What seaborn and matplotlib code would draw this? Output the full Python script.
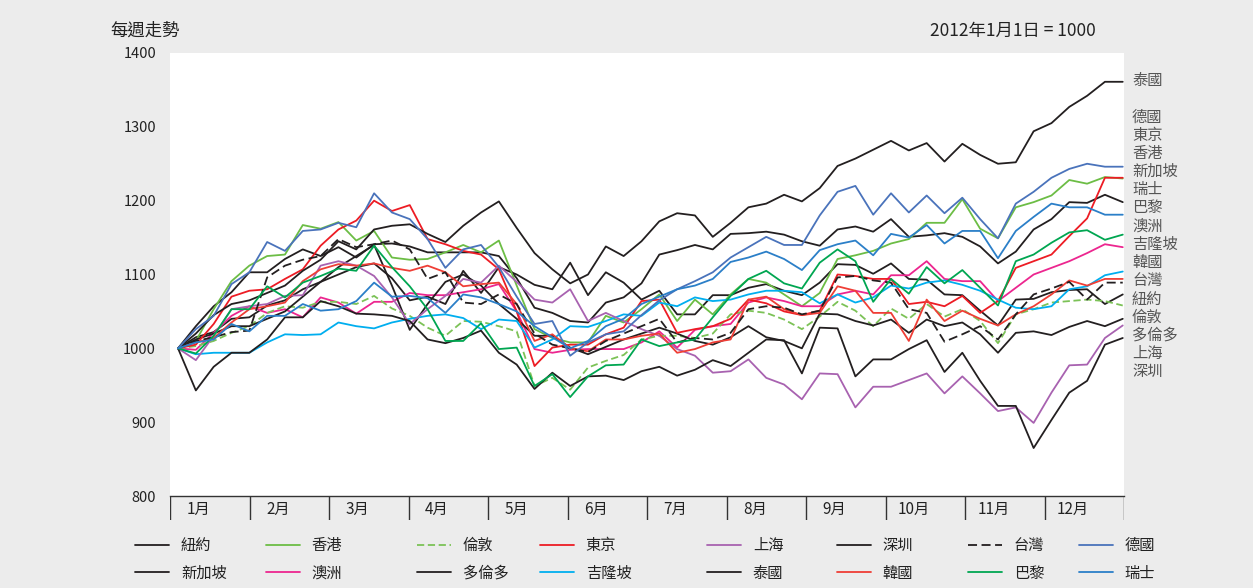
import numpy as np
import pandas as pd
import matplotlib
matplotlib.use('Agg')
import matplotlib.pyplot as plt
import seaborn as sns

# weekly index, 2012-01-01 = 1000
weeks = list(range(54))
months = ['1月', '2月', '3月', '4月', '5月', '6月', '7月', '8月', '9月', '10月', '11月', '12月']

ny = [1000, 1015, 1022, 1040, 1042, 1058, 1065, 1080, 1090, 1100,
      1110, 1115, 1095, 1065, 1070, 1060, 1105, 1075, 1110, 1100,
      1086, 1080, 1116, 1072, 1103, 1089, 1066, 1078, 1046, 1046,
      1072, 1072, 1082, 1087, 1078, 1072, 1089, 1114, 1113, 1101,
      1115, 1094, 1093, 1073, 1072, 1051, 1031, 1066, 1067, 1076,
      1079, 1080, 1060, 1073]
sg = [1000, 1030, 1057, 1076, 1103, 1103, 1121, 1134, 1125, 1137,
      1123, 1141, 1142, 1138, 1130, 1130, 1130, 1130, 1125, 1095,
      1055, 1048, 1037, 1035, 1062, 1069, 1088, 1127, 1133, 1140,
      1134, 1155, 1156, 1158, 1154, 1145, 1139, 1161, 1165, 1158,
      1175, 1151, 1153, 1156, 1151, 1138, 1115, 1131, 1161, 1175,
      1198, 1197, 1208, 1198]
hk = [1000, 1010, 1053, 1091, 1112, 1125, 1127, 1167, 1162, 1171,
      1146, 1159, 1123, 1120, 1121, 1130, 1140, 1130, 1146, 1085,
      1026, 1014, 1008, 1008, 1044, 1035, 1053, 1073, 1037, 1066,
      1046, 1073, 1094, 1089, 1073, 1057, 1075, 1121, 1126, 1132,
      1142, 1148, 1170, 1170, 1202, 1162, 1149, 1191, 1198, 1207,
      1228, 1223, 1232, 1230]
au = [1000, 998, 1021, 1044, 1057, 1048, 1053, 1042, 1069, 1062,
      1047, 1063, 1063, 1075, 1072, 1072, 1076, 1080, 1087, 1050,
      999, 994, 998, 999, 999, 999, 1008, 1023, 1001, 1025,
      1030, 1033, 1062, 1069, 1064, 1057, 1057, 1073, 1078, 1073,
      1099, 1099, 1118, 1094, 1091, 1091, 1064, 1082, 1100, 1109,
      1118, 1129, 1141, 1137]
ldn = [1000, 1003, 1010, 1021, 1030, 1048, 1057, 1055, 1063, 1063,
       1060, 1071, 1054, 1044, 1028, 1017, 1037, 1036, 1030, 1023,
       949, 960, 944, 974, 983, 991, 1012, 1017, 1017, 1014,
       1020, 1046, 1051, 1048, 1039, 1026, 1043, 1063, 1051, 1030,
       1054, 1040, 1060, 1043, 1053, 1037, 1007, 1046, 1053, 1062,
       1064, 1066, 1064, 1058]
tor = [1000, 1012, 1020, 1030, 1030, 1040, 1050, 1070, 1090, 1110,
       1125, 1140, 1085, 1025, 1060, 1090, 1100, 1085, 1060, 1040,
       1017, 1017, 1001, 992, 1002, 1012, 1020, 1028, 1020, 1010,
       1005, 1015, 1030, 1015, 1010, 1000, 1047, 1046, 1037, 1031,
       1039, 1021, 1039, 1030, 1035, 1019, 994, 1021, 1023, 1018,
       1029, 1037, 1030, 1040]
tyo = [1000, 1005, 1033, 1070, 1078, 1080, 1094, 1107, 1139, 1161,
       1173, 1200, 1186, 1194, 1148, 1141, 1132, 1127, 1107, 1050,
       976, 1001, 1005, 1005, 1019, 1028, 1064, 1066, 1021, 1026,
       1030, 1040, 1066, 1061, 1050, 1045, 1051, 1100, 1098, 1094,
       1094, 1060, 1063, 1057, 1071, 1048, 1064, 1109, 1118, 1127,
       1152, 1176, 1231, 1231]
kl = [1000, 992, 994, 994, 994, 1008, 1019, 1018, 1019, 1035,
      1030, 1027, 1035, 1040, 1044, 1046, 1041, 1026, 1039, 1037,
      1001, 1012, 1030, 1029, 1037, 1046, 1044, 1062, 1057, 1069,
      1064, 1066, 1073, 1078, 1078, 1076, 1061, 1073, 1062, 1069,
      1085, 1081, 1089, 1092, 1086, 1078, 1066, 1055, 1053, 1057,
      1080, 1084, 1099, 1104]
sh = [1000, 984, 1017, 1053, 1057, 1060, 1071, 1072, 1112, 1118,
      1112, 1098, 1069, 1033, 1053, 1071, 1094, 1089, 1112, 1090,
      1066, 1062, 1080, 1037, 1048, 1037, 1026, 1017, 999, 990,
      967, 969, 985, 960, 951, 931, 966, 965, 920, 948,
      948, 957, 966, 939, 962, 939, 915, 920, 899, 940,
      977, 978, 1014, 1031]
th = [1000, 1020, 1045, 1060, 1065, 1075, 1085, 1105, 1120, 1145,
      1134, 1161, 1166, 1168, 1155, 1144, 1166, 1184, 1199, 1163,
      1129, 1107, 1088, 1100, 1138, 1125, 1145, 1172, 1183, 1180,
      1151, 1170, 1191, 1196, 1208, 1199, 1217, 1247, 1257, 1269,
      1281, 1268, 1278, 1253, 1277, 1262, 1250, 1252, 1294, 1305,
      1327, 1342, 1361, 1361]
sz = [1000, 943, 975, 994, 994, 1012, 1042, 1042, 1064, 1057,
      1047, 1046, 1044, 1037, 1012, 1007, 1014, 1024, 994, 978,
      945, 967, 949, 962, 963, 957, 969, 975, 963, 971,
      984, 976, 994, 1012, 1011, 966, 1028, 1027, 962, 985,
      985, 999, 1011, 968, 994, 956, 922, 922, 865, 903,
      940, 956, 1005, 1014]
kr = [1000, 1008, 1014, 1035, 1053, 1057, 1062, 1091, 1107, 1114,
      1112, 1115, 1109, 1105, 1112, 1103, 1084, 1087, 1089, 1060,
      1010, 1019, 1000, 996, 1012, 1012, 1017, 1020, 994, 999,
      1008, 1012, 1066, 1070, 1053, 1045, 1048, 1084, 1078, 1048,
      1048, 1010, 1066, 1037, 1051, 1040, 1031, 1046, 1057, 1073,
      1092, 1085, 1094, 1094]
tw = [1000, 1010, 1015, 1022, 1024, 1096, 1112, 1120, 1125, 1148,
      1137, 1141, 1146, 1134, 1094, 1103, 1062, 1060, 1073, 1060,
      1020, 1005, 1000, 995, 1010, 1020, 1030, 1040, 1008, 1014,
      1012, 1021, 1053, 1057, 1055, 1046, 1051, 1096, 1098, 1092,
      1089, 1053, 1048, 1009, 1019, 1030, 1012, 1046, 1073, 1081,
      1090, 1066, 1089, 1089]
par = [1000, 993, 1017, 1053, 1053, 1084, 1069, 1089, 1098, 1108,
       1105, 1139, 1110, 1084, 1053, 1010, 1010, 1034, 999, 1001,
       949, 965, 934, 962, 977, 978, 1012, 1003, 1008, 1012,
       1042, 1071, 1094, 1105, 1088, 1081, 1116, 1134, 1118, 1063,
       1094, 1074, 1110, 1088, 1106, 1082, 1058, 1118, 1127, 1143,
       1157, 1160, 1147, 1154]
de = [1000, 1026, 1044, 1087, 1103, 1144, 1132, 1159, 1161, 1170,
      1164, 1210, 1184, 1175, 1148, 1109, 1134, 1140, 1110, 1070,
      1033, 1037, 990, 1008, 1019, 1023, 1045, 1065, 1080, 1091,
      1103, 1123, 1137, 1151, 1140, 1140, 1180, 1212, 1220, 1181,
      1210, 1184, 1207, 1183, 1204, 1175, 1149, 1196, 1212, 1231,
      1243, 1250, 1246, 1246]
ch = [1000, 1008, 1012, 1033, 1023, 1044, 1044, 1060, 1051, 1053,
      1064, 1089, 1070, 1071, 1068, 1048, 1073, 1069, 1060, 1050,
      1030, 1015, 1000, 1010, 1030, 1040, 1060, 1070, 1080, 1085,
      1094, 1117, 1123, 1131, 1121, 1106, 1133, 1141, 1146, 1126,
      1155, 1150, 1167, 1142, 1159, 1159, 1122, 1159, 1178, 1196,
      1191, 1191, 1181, 1181]

# legend order (column by column, two rows)
cities = ['紐約', '新加坡', '香港', '澳洲', '倫敦', '多倫多', '東京', '吉隆坡',
          '上海', '泰國', '深圳', '韓國', '台灣', '巴黎', '德國', '瑞士']
series = [ny, sg, hk, au, ldn, tor, tyo, kl, sh, th, sz, kr, tw, par, de, ch]

# labels on the right, top to bottom
end_labels = ['德國', '東京', '香港', '新加坡', '瑞士', '巴黎', '澳洲', '吉隆坡',
              '韓國', '台灣', '紐約', '倫敦', '多倫多', '上海', '深圳']

blk = '#231f20'
colors = {'紐約': blk, '新加坡': blk, '香港': '#6cbd45', '澳洲': '#ec268f',
          '倫敦': '#7cc257', '多倫多': blk, '東京': '#ed1c24', '吉隆坡': '#00aeef',
          '上海': '#a862b0', '泰國': blk, '深圳': blk, '韓國': '#ef3e36',
          '台灣': blk, '巴黎': '#00a651', '德國': '#4a73bb', '瑞士': '#2b7fc8'}
dashes = {c: '' for c in cities}
dashes['倫敦'] = (4, 2)
dashes['台灣'] = (5, 2.5)

df = pd.DataFrame({c: v for c, v in zip(cities, series)})
df['week'] = weeks
long = df.melt(id_vars='week', var_name='city', value_name='idx')

sns.set_style('white')
plt.rcParams['font.family'] = ['Noto Sans CJK TC', 'DejaVu Sans']

W, H = 1253, 588
fig = plt.figure(figsize=(W / 100, H / 100), dpi=100)
fig.patch.set_facecolor('#ececec')

ax = fig.add_axes([170 / W, 1 - 496 / H, 954 / W, 443 / H])
ax.set_facecolor('white')
sns.lineplot(data=long, x='week', y='idx', hue='city', style='city',
             hue_order=cities, style_order=cities, palette=colors,
             dashes=dashes, linewidth=1.3, legend=False, ax=ax)

ax.set_xlim(-0.45, 53.07)
ax.set_ylim(800, 1400)
ax.set_yticks(range(800, 1401, 100))
ax.set_xticks([])
ax.set_xlabel('')
ax.set_ylabel('')
for s in ['top', 'right', 'left']:
    ax.spines[s].set_visible(False)
ax.spines['bottom'].set_color('#333333')
ax.spines['bottom'].set_linewidth(1)
ax.tick_params(axis='y', direction='in', length=5, width=1, color='#333333',
               pad=10, labelsize=10.5, labelcolor='#222222')

# month band under the plot
band = fig.add_axes([170 / W, 1 - 520 / H, 954 / W, 24 / H])
band.set_xlim(0, 12)
band.set_ylim(0, 1)
band.axis('off')
band.vlines(range(13), 0, 1, color='#333333', lw=1)
for i, m in enumerate(months):
    band.text(i + 0.36, 0.45, m, ha='center', va='center', fontsize=11, color='#222222')

fig.text(110 / W, 1 - 31 / H, '每週走勢', ha='left', va='center', fontsize=12.5, color='#222222')
fig.text(1096 / W, 1 - 31 / H, '2012年1月1日 = 1000', ha='right', va='center',
         fontsize=12.5, color='#222222')

# end labels on the right
fig.text(1132 / W, 1 - 81 / H, '泰國', ha='left', va='center', fontsize=11, color='#555555')
for k, name in enumerate(end_labels):
    fig.text(1132 / W, 1 - (117 + 18.2 * k) / H, name, ha='left', va='center',
             fontsize=11, color='#555555')

# legend, eight columns of two entries
lines = ax.get_lines()[:len(cities)]
col_x = [135, 266, 417, 540, 707, 837, 968, 1079]
for j, x in enumerate(col_x):
    hs = [lines[2 * j], lines[2 * j + 1]]
    fig.legend(hs, cities[2 * j:2 * j + 2], loc='upper left',
               bbox_to_anchor=(x / W, 1 - 537 / H), frameon=False,
               borderpad=0, borderaxespad=0, handlelength=2.2,
               handletextpad=0.8, labelspacing=0.7, fontsize=11,
               labelcolor='#222222')

fig.savefig('out.png', dpi=100, facecolor=fig.get_facecolor())
